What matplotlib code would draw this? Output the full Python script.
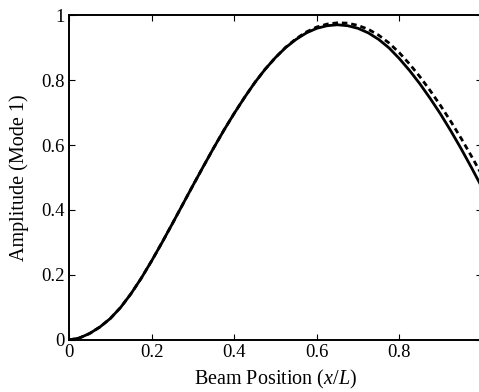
import numpy as np
import matplotlib.pyplot as plt

plt.rcParams['font.family'] = ['Liberation Serif', 'DejaVu Serif']
plt.rcParams['mathtext.fontset'] = 'custom'
plt.rcParams['mathtext.rm'] = 'Liberation Serif'
plt.rcParams['mathtext.it'] = 'Liberation Serif:italic'

# datos
x_pos = [0.0, 0.025, 0.05, 0.075, 0.1, 0.125, 0.15, 0.175, 0.2, 0.225,
         0.25, 0.275, 0.3, 0.325, 0.35, 0.375, 0.4, 0.425, 0.45, 0.475,
         0.5, 0.525, 0.55, 0.575, 0.6, 0.625, 0.65, 0.675, 0.7, 0.725,
         0.75, 0.775, 0.8, 0.825, 0.85, 0.875, 0.9, 0.925, 0.95, 0.975, 1.0]
amp_solid = [0.0, 0.006, 0.020, 0.040, 0.066, 0.100, 0.142, 0.190, 0.243, 0.299,
             0.357, 0.416, 0.475, 0.533, 0.590, 0.645, 0.697, 0.746, 0.792, 0.833,
             0.869, 0.900, 0.925, 0.945, 0.959, 0.967, 0.970, 0.967, 0.959, 0.945,
             0.925, 0.899, 0.866, 0.829, 0.788, 0.743, 0.695, 0.643, 0.588, 0.530, 0.470]
amp_dashed = [0.0, 0.006, 0.020, 0.040, 0.066, 0.100, 0.142, 0.190, 0.243, 0.299,
              0.357, 0.416, 0.475, 0.533, 0.590, 0.645, 0.697, 0.746, 0.792, 0.833,
              0.869, 0.901, 0.927, 0.948, 0.963, 0.972, 0.976, 0.975, 0.968, 0.956,
              0.938, 0.914, 0.884, 0.849, 0.810, 0.767, 0.721, 0.672, 0.620, 0.565, 0.508]

fig = plt.figure(figsize=(4.79, 3.92), dpi=100)
ax = fig.add_axes([0.144, 0.1327, 0.862, 0.829])

ax.plot(x_pos, amp_dashed, color="black", lw=2.0, linestyle=(0, (2.0, 1.4)))
ax.plot(x_pos, amp_solid, color="black", lw=2.0)

ax.set_xlim(0, 1)
ax.set_ylim(0, 1)
ax.set_xticks([0, 0.2, 0.4, 0.6, 0.8, 1])
ax.set_xticklabels(["0", "0.2", "0.4", "0.6", "0.8", "1"])
ax.set_yticks([0, 0.2, 0.4, 0.6, 0.8, 1])
ax.set_yticklabels(["0", "0.2", "0.4", "0.6", "0.8", "1"])
ax.tick_params(direction="in", top=True, right=True, length=4, width=0.8,
               labelsize=13.5, pad=3)
for s in ax.spines.values():
    s.set_linewidth(1.4)

ax.set_xlabel(r"Beam Position ($x/L$)", fontsize=14.5, labelpad=5)
ax.set_ylabel("Amplitude (Mode 1)", fontsize=14.5, labelpad=9)

fig.savefig("out.png", dpi=100)
